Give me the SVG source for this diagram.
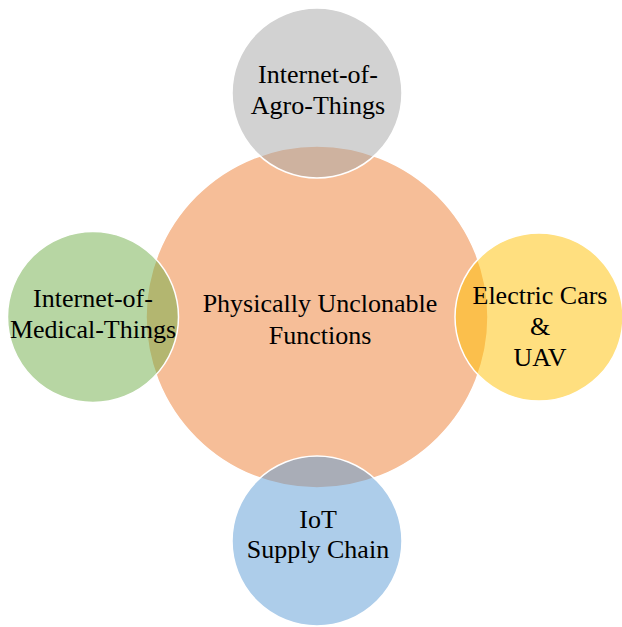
<svg xmlns="http://www.w3.org/2000/svg" width="622" height="627" viewBox="0 0 622 627">
<style>
.c{stroke:#FFFFFF;stroke-width:1.5;fill-opacity:0.5}
.t{font-family:"Liberation Serif","Times New Roman",serif;font-size:26px;fill:#000000;text-anchor:middle}
</style>
<rect width="622" height="627" fill="#FFFFFF"/>
<g id="connectors"></g>
<g id="center">
<circle class="c" cx="317" cy="317" r="171" fill="#ED7D31"/>
<text class="t" x="320" y="312">Physically Unclonable</text>
<text class="t" x="320" y="344">Functions</text>
</g>
<g id="top">
<circle class="c" cx="317" cy="93" r="85" fill="#A5A5A5"/>
<text class="t" x="318" y="83">Internet-of-</text>
<text class="t" x="318" y="114">Agro-Things</text>
</g>
<g id="left">
<circle class="c" cx="93" cy="317" r="85.5" fill="#70AD47"/>
<text class="t" x="93" y="307">Internet-of-</text>
<text class="t" x="93" y="338">Medical-Things</text>
</g>
<g id="right">
<circle class="c" cx="539" cy="317" r="84" fill="#FFC000"/>
<text class="t" x="540" y="304">Electric Cars</text>
<text class="t" x="540" y="335">&amp;</text>
<text class="t" x="540" y="366">UAV</text>
</g>
<g id="bottom">
<circle class="c" cx="317" cy="541" r="85" fill="#5B9BD5"/>
<text class="t" x="318" y="528">IoT</text>
<text class="t" x="318" y="558">Supply Chain</text>
</g>
</svg>
